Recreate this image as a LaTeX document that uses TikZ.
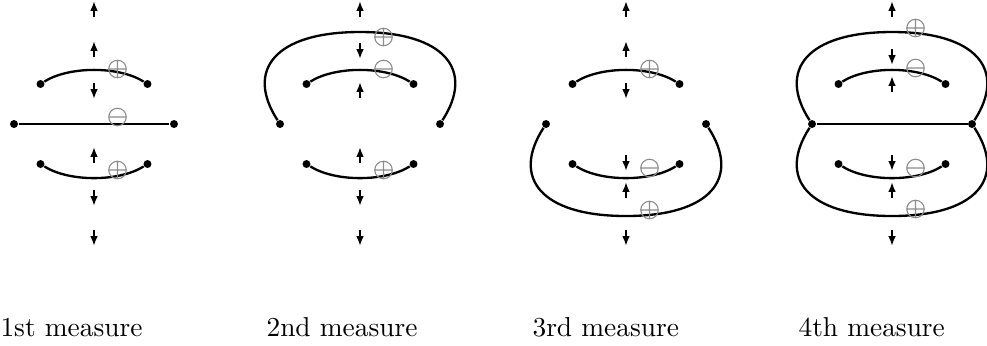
\documentclass[tikz,border=0pt]{standalone}
\usetikzlibrary{arrows.meta}
\begin{document}
\begin{tikzpicture}[x=0.365pt, y=-0.365pt,
    curve/.style={line width=0.85pt},
    spin/.style={line width=0.8pt, -{Latex[length=3.6pt,width=2.8pt]}},
    dot/.style={circle, fill, inner sep=0pt, minimum size=2.9pt},
    charge/.style={black!45, line width=0.4pt},
    posmark/.pic={\draw[charge] (0,0) circle (3.2pt) (-3.2pt,0) -- (3.2pt,0) (0,-3.2pt) -- (0,3.2pt);},
    negmark/.pic={\draw[charge] (0,0) circle (3.2pt) (-3.2pt,0) -- (3.2pt,0);},
    caption/.style={anchor=base west, inner sep=0pt}]
    \useasboundingbox (0,0) rectangle (987,345);

    % 1st measure
    \begin{scope}[shift={(94,0)}]
        \foreach \y/\s in {9/1,49/1,91/-1,155/1,198/-1,238/-1}
            \draw[spin] (0,{\y+8*\s}) -- (0,{\y-8*\s});
        \node[dot] (a1) at (-53.5,84) {};
        \node[dot] (b1) at (53.5,84) {};
        \node[dot] (c1) at (-80,124) {};
        \node[dot] (d1) at (80,124) {};
        \node[dot] (e1) at (-53.5,164) {};
        \node[dot] (f1) at (53.5,164) {};
        \draw[curve] (a1) .. controls (-25,66) and (25,66) .. (b1);
        \draw[curve] (c1) -- (d1);
        \draw[curve] (e1) .. controls (-25,182) and (25,182) .. (f1);
        \pic at (23.5,69) {posmark};
        \pic at (23.5,117) {negmark};
        \pic at (23.5,170) {posmark};
        \node[caption] (cap1) at (-94,336) {1st measure};
    \end{scope}

    % 2nd measure
    \begin{scope}[shift={(360,0)}]
        \foreach \y/\s in {9/1,51/-1,90/1,155/1,198/-1,238/-1}
            \draw[spin] (0,{\y+8*\s}) -- (0,{\y-8*\s});
        \node[dot] (a2) at (-53.5,84) {};
        \node[dot] (b2) at (53.5,84) {};
        \node[dot] (c2) at (-80,124) {};
        \node[dot] (d2) at (80,124) {};
        \node[dot] (e2) at (-53.5,164) {};
        \node[dot] (f2) at (53.5,164) {};
        \draw[curve] (a2) .. controls (-25,66) and (25,66) .. (b2);
        \draw[curve] (c2) .. controls (-115,70) and (-85,32) .. (0,32)
                          .. controls (85,32) and (115,70) .. (d2);
        \draw[curve] (e2) .. controls (-25,182) and (25,182) .. (f2);
        \pic at (23.5,37) {posmark};
        \pic at (23.5,69) {negmark};
        \pic at (23.5,170) {posmark};
        \node[caption] (cap2) at (-94,336) {2nd measure};
    \end{scope}

    % 3rd measure
    \begin{scope}[shift={(626,0)}]
        \foreach \y/\s in {9/1,49/1,91/-1,163/-1,190/1,238/-1}
            \draw[spin] (0,{\y+8*\s}) -- (0,{\y-8*\s});
        \node[dot] (a3) at (-53.5,84) {};
        \node[dot] (b3) at (53.5,84) {};
        \node[dot] (c3) at (-80,124) {};
        \node[dot] (d3) at (80,124) {};
        \node[dot] (e3) at (-53.5,164) {};
        \node[dot] (f3) at (53.5,164) {};
        \draw[curve] (a3) .. controls (-25,66) and (25,66) .. (b3);
        \draw[curve] (e3) .. controls (-25,182) and (25,182) .. (f3);
        \draw[curve] (c3) .. controls (-115,178) and (-85,216) .. (0,216)
                          .. controls (85,216) and (115,178) .. (d3);
        \pic at (23.5,69) {posmark};
        \pic at (23.5,168) {negmark};
        \pic at (23.5,210) {posmark};
        \node[caption] (cap3) at (-94,336) {3rd measure};
    \end{scope}

    % 4th measure
    \begin{scope}[shift={(892,0)}]
        \foreach \y/\s in {9/1,57/-1,84/1,163/-1,190/1,238/-1}
            \draw[spin] (0,{\y+8*\s}) -- (0,{\y-8*\s});
        \node[dot] (a4) at (-53.5,84) {};
        \node[dot] (b4) at (53.5,84) {};
        \node[dot] (c4) at (-80,124) {};
        \node[dot] (d4) at (80,124) {};
        \node[dot] (e4) at (-53.5,164) {};
        \node[dot] (f4) at (53.5,164) {};
        \draw[curve] (a4) .. controls (-25,66) and (25,66) .. (b4);
        \draw[curve] (c4) -- (d4);
        \draw[curve] (e4) .. controls (-25,182) and (25,182) .. (f4);
        \draw[curve] (c4) .. controls (-115,70) and (-85,32) .. (0,32)
                          .. controls (85,32) and (115,70) .. (d4);
        \draw[curve] (c4) .. controls (-115,178) and (-85,216) .. (0,216)
                          .. controls (85,216) and (115,178) .. (d4);
        \pic at (23.5,28) {posmark};
        \pic at (23.5,68) {negmark};
        \pic at (23.5,168) {negmark};
        \pic at (23.5,209) {posmark};
        \node[caption] (cap4) at (-94,336) {4th measure};
    \end{scope}
\end{tikzpicture}
\end{document}
